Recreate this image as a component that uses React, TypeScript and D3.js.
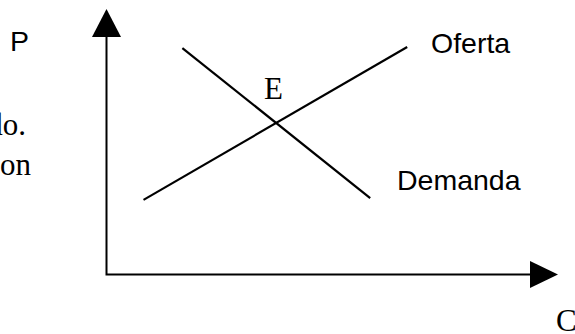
import React from "react";
import * as d3 from "d3";

// Quantity / price values (abstract units 0..10)
const supplyQ = [0.82, 6.66];
const supplyP = [2.81, 8.57];
const demandQ = [1.68, 5.84];
const demandP = [8.53, 2.88];
const axisMax = [10, 10];
const axisLabels = ["P", "C"];
const curveLabels = ["Oferta", "Demanda"];
const pointLabel = "E";
const sideText = ["ado.", "on"];

const W = 575;
const H = 334;

export default function App() {
  const x = d3.scaleLinear().domain([0, axisMax[0]]).range([106.5, 558]);
  const y = d3.scaleLinear().domain([0, axisMax[1]]).range([274.5, 9]);
  const line = d3
    .line<[number, number]>()
    .x((d) => x(d[0]))
    .y((d) => y(d[1]));
  const supply: [number, number][] = supplyQ.map((q, i) => [q, supplyP[i]]);
  const demand: [number, number][] = demandQ.map((q, i) => [q, demandP[i]]);

  const x0 = x(0);
  const y0 = y(0);
  const xTip = x(axisMax[0]);
  const yTip = y(axisMax[1]);
  const headLen = 27;
  const sans = "Arial, 'Liberation Sans', sans-serif";
  const serif = "'Times New Roman', 'Liberation Serif', serif";

  return (
    <svg
      width={W}
      height={H}
      style={{ position: "absolute", left: 0, top: 0, background: "#fff" }}
    >
      <rect width={W} height={H} fill="#fff" />
      {/* axes */}
      <path
        d={`M${x0},${yTip + headLen}V${y0}H${xTip - headLen}`}
        fill="none"
        stroke="#000"
        strokeWidth={2}
      />
      <path
        d={`M${x0},${yTip}L${x0 + 14.5},${yTip + headLen + 1}L${x0 - 14.5},${yTip + headLen + 1}Z`}
        fill="#000"
      />
      <path
        d={`M${xTip},${y0}L${xTip - headLen - 1},${y0 - 13.5}L${xTip - headLen - 1},${y0 + 13.5}Z`}
        fill="#000"
      />
      {/* curves */}
      <path d={line(supply) || ""} fill="none" stroke="#000" strokeWidth={2.2} />
      <path d={line(demand) || ""} fill="none" stroke="#000" strokeWidth={2.2} />
      {/* labels */}
      <text x={10} y={51} fontFamily={sans} fontSize={28.5} fill="#000">
        {axisLabels[0]}
      </text>
      <text x={556} y={331} fontFamily={serif} fontSize={31} fill="#000">
        {axisLabels[1]}
      </text>
      <text x={431} y={53} fontFamily={sans} fontSize={28.5} fill="#000">
        {curveLabels[0]}
      </text>
      <text x={397} y={190} fontFamily={sans} fontSize={28.5} fill="#000">
        {curveLabels[1]}
      </text>
      <text x={264} y={99} fontFamily={serif} fontSize={31} fill="#000">
        {pointLabel}
      </text>
      <text x={26} y={135} textAnchor="end" fontFamily={serif} fontSize={31} fill="#000">
        {sideText[0]}
      </text>
      <text x={31} y={175} textAnchor="end" fontFamily={serif} fontSize={31} fill="#000">
        {sideText[1]}
      </text>
    </svg>
  );
}
